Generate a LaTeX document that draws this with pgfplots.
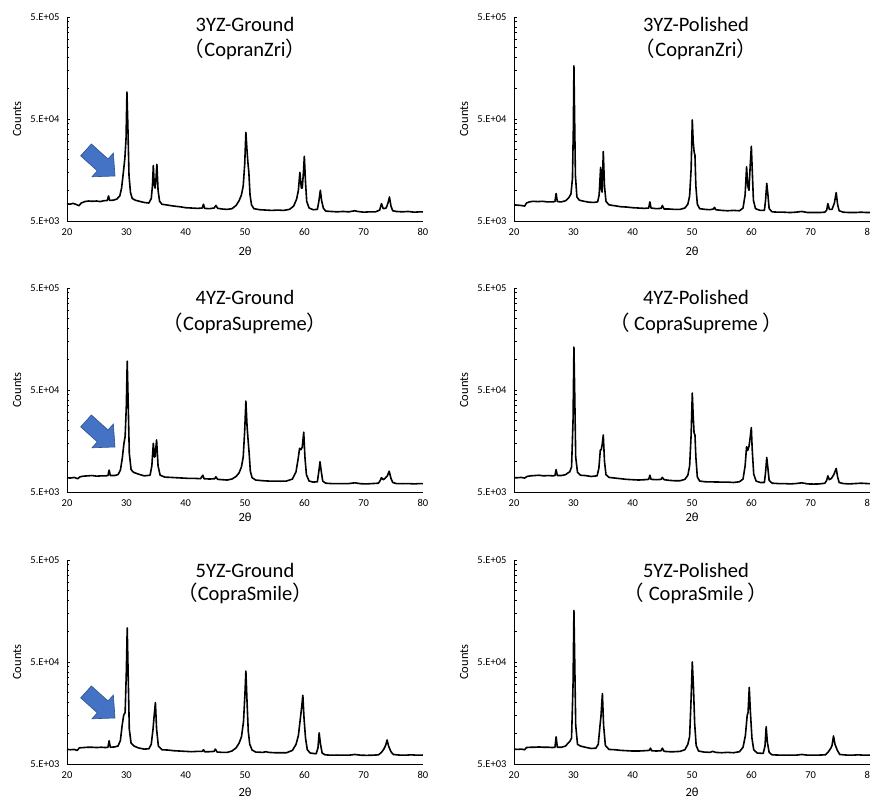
\documentclass[border=0pt]{standalone}
\usepackage{pgfplots}
\pgfplotsset{compat=1.18}
\usepackage{pgfplotstable}
\usepackage{fontspec}
\setmainfont{Carlito}
\newfontfamily\cjk{Noto Sans CJK JP}

\definecolor{arrowblue}{HTML}{4472C4}
\definecolor{arrowedge}{HTML}{2F528F}

% 3YZ-Ground (CopranZri)
\pgfplotstableread{
x y
20.0 7400
20.5 7300
21.0 7450
21.6 7250
22.0 7050
22.4 7500
23.0 7750
23.6 7850
24.2 7800
25.0 7850
25.6 7750
26.2 7900
26.8 7950
27.0 8800
27.2 7950
27.8 8000
28.4 8200
28.9 8800
29.2 10500
29.5 15000
29.75 20500
29.95 32000
30.1 92000
30.25 45000
30.45 14000
30.7 9500
31.0 8300
31.5 8000
32.2 7800
33.0 7600
33.8 7500
34.2 8300
34.4 11000
34.55 17500
34.7 11500
34.85 10500
35.0 13000
35.15 18000
35.35 10000
35.6 7800
36.0 7300
37.0 7150
38.0 7000
39.0 6900
40.0 6750
41.0 6700
42.0 6650
42.8 6700
43.0 7300
43.2 6650
44.0 6600
44.8 6700
45.1 7100
45.4 6650
46.2 6550
47.0 6500
47.8 6600
48.5 7100
49.0 7900
49.4 9000
49.7 11000
49.95 18000
50.15 37000
50.35 24000
50.5 18500
50.65 15000
50.85 9000
51.1 7200
51.5 6600
52.5 6450
53.5 6400
54.5 6350
55.5 6400
56.5 6350
57.5 6500
58.2 7000
58.7 8200
59.0 10000
59.25 15000
59.5 10500
59.65 10500
59.85 15000
60.0 21500
60.2 12000
60.4 7800
60.8 6700
61.5 6450
62.2 6500
62.45 7800
62.7 10000
62.9 8000
63.2 6700
63.6 6250
64.5 6200
65.5 6150
66.5 6200
67.5 6150
68.5 6300
69.0 6200
70.0 6100
71.0 6150
72.0 6150
72.7 6400
73.0 7400
73.3 6600
73.8 6700
74.1 7500
74.35 8600
74.6 7000
74.9 6300
75.5 6200
76.5 6150
77.5 6200
78.5 6100
79.5 6150
80.0 6150
}\tA

% 3YZ-Polished (CopranZri)
\pgfplotstableread{
x y
20.0 7200
20.6 7150
21.2 7100
21.8 7000
22.1 7500
22.6 7700
23.2 7800
24.0 7750
24.8 7800
25.6 7700
26.4 7700
26.9 7750
27.1 9300
27.3 7750
28.0 7700
28.7 7900
29.2 8400
29.6 9200
29.85 13000
30.0 40000
30.1 166000
30.2 60000
30.35 14000
30.6 8600
31.0 8000
31.8 7800
32.6 7650
33.4 7600
34.1 7700
34.35 9000
34.6 16800
34.75 10000
34.85 9600
35.05 24000
35.25 11000
35.5 7800
36.0 7200
37.0 7050
38.0 6900
39.0 6850
40.0 6750
41.0 6700
42.0 6650
42.7 6700
42.9 7700
43.1 6700
44.0 6600
44.8 6650
45.0 7100
45.3 6550
46.2 6550
47.0 6500
48.0 6500
48.8 6700
49.3 7300
49.6 8800
49.85 16000
50.05 49000
50.2 30000
50.35 24000
50.5 22000
50.65 11000
50.9 7300
51.3 6600
52.2 6500
53.0 6450
53.6 6550
53.8 6800
54.0 6450
55.0 6350
56.0 6300
57.0 6350
58.0 6300
58.6 6700
58.95 9000
59.2 17000
59.4 11000
59.6 10000
59.8 17000
60.0 27000
60.15 16000
60.35 8000
60.7 6600
61.5 6350
62.2 6350
62.4 8000
62.6 11700
62.8 9000
63.0 6600
63.5 6150
64.5 6100
65.5 6100
66.5 6050
67.5 6100
68.5 6200
69.5 6050
70.5 6050
71.5 6050
72.4 6100
72.7 6400
72.9 7400
73.15 6500
73.6 6500
74.0 7500
74.3 9500
74.55 7200
74.8 6300
75.5 6100
76.5 6050
77.5 6050
78.5 6100
79.5 6050
80.0 6050
}\tB

% 4YZ-Ground (CopraSupreme)
\pgfplotstableread{
x y
20.0 6900
20.6 6850
21.2 6950
21.8 6750
22.2 7050
22.8 7150
23.5 7200
24.2 7250
25.0 7150
25.8 7200
26.5 7200
26.9 7250
27.1 8200
27.3 7250
28.0 7250
28.6 7400
29.0 8200
29.3 10500
29.6 15000
29.8 17500
30.0 35000
30.15 96000
30.3 40000
30.5 12000
30.8 8300
31.2 7800
32.0 7500
33.0 7200
34.0 7300
34.3 9000
34.55 15000
34.75 11000
34.85 11200
35.1 16200
35.35 9000
35.7 7300
36.5 7000
37.5 6950
38.5 6900
39.5 6850
40.5 6800
41.5 6800
42.5 6750
42.9 7300
43.1 6750
44.0 6700
44.9 6750
45.1 7050
45.4 6650
46.2 6600
47.0 6550
47.8 6700
48.5 7100
49.0 7700
49.4 8800
49.7 11000
49.95 20000
50.15 39000
50.35 22000
50.5 16800
50.7 12000
50.9 8000
51.2 6900
51.8 6550
53.0 6450
54.0 6400
55.0 6400
56.0 6380
57.0 6400
58.0 6700
58.6 7900
58.95 10500
59.2 13400
59.45 13000
59.65 13800
59.9 19300
60.1 11000
60.35 7400
60.8 6400
61.5 6250
62.2 6300
62.45 8000
62.65 9900
62.85 8000
63.1 6400
63.6 6100
64.5 6050
65.5 6050
66.5 6030
67.5 6050
68.5 6150
69.5 6030
70.5 6000
71.5 6050
72.5 6100
72.8 6500
73.0 6900
73.3 6600
73.6 6800
74.0 7200
74.3 8000
74.6 6800
74.9 6200
75.5 6050
76.5 6030
77.5 6050
78.5 6000
79.5 6050
80.0 6050
}\tC

% 4YZ-Polished (CopraSupreme)
\pgfplotstableread{
x y
20.0 6900
20.6 6900
21.2 6950
21.8 6850
22.2 7100
22.8 7200
23.5 7250
24.2 7300
25.0 7200
25.8 7250
26.5 7200
26.9 7250
27.1 8300
27.3 7250
28.0 7250
28.7 7400
29.1 7700
29.4 7900
29.7 8800
29.95 25000
30.1 132000
30.25 40000
30.4 11000
30.7 7800
31.2 7300
32.0 7250
33.0 7100
34.0 7200
34.3 8500
34.55 12900
34.7 13000
34.85 14400
35.05 18100
35.25 10000
35.5 7400
36.0 6950
37.0 6850
38.0 6750
39.0 6650
40.0 6600
41.0 6550
42.0 6600
42.7 6650
42.9 7300
43.1 6650
44.0 6600
44.8 6650
45.0 6950
45.3 6600
46.2 6500
47.0 6450
48.0 6450
48.8 6650
49.3 7300
49.6 9000
49.85 18000
50.05 46700
50.2 28000
50.35 19000
50.5 18100
50.65 11000
50.9 7000
51.3 6400
52.2 6300
53.0 6280
54.0 6270
55.0 6250
56.0 6250
57.0 6200
58.0 6300
58.6 6700
58.95 9000
59.2 13900
59.4 12800
59.6 14000
59.75 16000
60.0 21400
60.15 13000
60.4 7500
60.8 6400
61.5 6200
62.2 6200
62.4 7800
62.6 10900
62.8 8500
63.0 6500
63.5 6100
64.5 6050
65.5 6050
66.5 6000
67.5 6050
68.5 6150
69.5 6000
70.5 5980
71.5 6000
72.4 6100
72.7 6500
72.9 7200
73.15 6600
73.5 6800
73.9 7400
74.3 8500
74.55 7000
74.8 6200
75.5 6050
76.5 6000
77.5 6050
78.5 6100
79.5 6050
80.0 6050
}\tD

% 5YZ-Ground (CopraSmile)
\pgfplotstableread{
x y
20.0 6950
20.6 6900
21.2 6950
21.7 6800
22.1 7200
22.8 7250
23.5 7300
24.2 7300
25.0 7250
25.8 7300
26.5 7250
26.9 7300
27.1 8450
27.3 7300
28.0 7350
28.6 7500
29.0 8500
29.3 12000
29.55 15000
29.8 16000
30.0 40000
30.15 108000
30.3 40000
30.5 11000
30.8 8000
31.3 7500
32.0 7200
33.0 7000
33.8 7050
34.2 7800
34.5 11000
34.65 14000
34.9 20000
35.1 11000
35.4 7500
36.0 6900
37.0 6850
38.0 6750
39.0 6700
40.0 6650
41.0 6600
42.0 6650
42.8 6650
43.0 6900
43.2 6600
44.0 6600
44.8 6650
45.0 7000
45.3 6550
46.2 6500
47.0 6500
47.8 6700
48.5 7200
49.0 8000
49.4 9200
49.75 13000
50.0 25000
50.15 40800
50.35 20000
50.55 10500
50.8 7800
51.2 6850
51.8 6550
53.0 6500
53.5 6600
54.0 6500
55.0 6450
56.0 6450
57.0 6450
58.0 6800
58.6 7800
59.0 9500
59.3 13500
59.55 18000
59.75 23600
59.95 14000
60.2 9000
60.5 6900
61.0 6400
62.0 6300
62.3 7200
62.5 10100
62.7 8000
63.0 6400
63.5 6150
64.5 6100
65.5 6120
66.5 6100
67.5 6100
68.5 6200
69.5 6100
70.5 6080
71.5 6100
72.5 6150
73.0 6500
73.4 7000
73.7 7600
73.95 8600
74.2 7500
74.6 6600
75.0 6200
76.0 6120
77.0 6100
78.0 6150
79.0 6100
80.0 6120
}\tE

% 5YZ-Polished (CopraSmile)
\pgfplotstableread{
x y
20.0 7000
20.6 6950
21.2 7000
21.8 6900
22.1 7250
22.8 7300
23.5 7300
24.2 7350
25.0 7300
25.8 7300
26.5 7250
26.9 7300
27.1 9250
27.3 7300
28.0 7300
28.7 7500
29.1 8000
29.4 8300
29.7 9000
29.95 30000
30.1 160000
30.25 45000
30.4 12000
30.7 7800
31.2 7500
32.0 7300
33.0 7100
33.8 7150
34.2 7800
34.5 12000
34.65 14500
34.9 24500
35.1 12000
35.4 7600
36.0 6950
37.0 6900
38.0 6800
39.0 6750
40.0 6700
41.0 6700
42.0 6750
42.8 6800
43.0 7150
43.2 6750
44.0 6700
44.8 6750
45.0 7150
45.3 6650
46.2 6600
47.0 6600
48.0 6650
48.8 6900
49.3 7800
49.6 9300
49.85 22000
50.05 50000
50.25 28000
50.45 12500
50.7 7600
51.1 6700
52.0 6550
53.0 6500
53.5 6650
54.0 6500
55.0 6450
56.0 6500
57.0 6450
58.0 6600
58.6 7300
59.0 9500
59.3 15000
59.45 16000
59.65 28100
59.85 16000
60.1 9000
60.4 6900
61.0 6400
62.0 6350
62.3 7500
62.5 11600
62.7 8200
63.0 6500
63.5 6150
64.5 6120
65.5 6100
66.5 6120
67.5 6100
68.5 6200
69.5 6100
70.5 6100
71.5 6120
72.5 6150
73.0 6600
73.4 7150
73.6 7600
73.85 9400
74.1 7800
74.5 6800
74.9 6200
76.0 6120
77.0 6100
78.0 6150
79.0 6100
80.0 6120
}\tF

% settings shared by all six panels
\pgfplotsset{
  every axis/.append style={
    scale only axis, width=356pt, height=204pt, anchor=south west,
    xmin=20, xmax=80, ymin=5000, ymax=500000,
    axis lines*=left, axis line style={line width=0.9pt},
    xtick={20,30,40,50,60,70,80},
    ytick={5000,50000,500000}, yticklabels={5.E+03,5.E+04,5.E+05},
    minor ytick={10000,15000,20000,25000,30000,35000,40000,45000,
      100000,150000,200000,250000,300000,350000,400000,450000},
    tick align=inside, major tick length=3pt, minor tick length=2.5pt,
    x tick style={draw=none}, y tick style={black, line width=0.7pt},
    xticklabel style={font=\fontsize{10.5}{12}\selectfont, yshift=-4pt},
    yticklabel style={font=\fontsize{10.5}{12}\selectfont, xshift=-4pt},
    xlabel={2θ}, ylabel={Counts},
    label style={font=\fontsize{12.5}{14}\selectfont},
    ylabel style={at={(axis description cs:-0.14,0.5)}, anchor=center},
  },
}
\pgfkeys{/pgf/number format/assume math mode=true}
\tikzset{
  ttl/.style={font=\fontsize{20.5}{24}\selectfont, anchor=base, inner sep=0pt},
  xrdline/.style={black, line width=1.6pt, line join=round},
}

\newcommand{\bluearrow}[2]{%
  \begin{scope}[shift={(#1pt,#2pt)}, rotate=-42]
    \filldraw[fill=arrowblue, draw=arrowedge, line width=0.6pt]
      (0pt,0pt) -- (-16.6pt,16pt) -- (-16.6pt,8pt) -- (-39pt,8pt)
      -- (-39pt,-8pt) -- (-16.6pt,-8pt) -- (-16.6pt,-16pt) -- cycle;
  \end{scope}}

\begin{document}
\begin{tikzpicture}
\path[use as bounding box] (0pt,0pt) rectangle (870pt,-799pt);

% row 1
\begin{semilogyaxis}[at={(67pt,-221pt)},
  xlabel style={at={(axis description cs:0.5,-0.150)}, anchor=center}]
  \addplot[xrdline, mark=none] table {\tA};
  \node[ttl] at (rel axis cs:0.5,1) [yshift=-14.7pt] {3YZ-Ground};
  \node[ttl] at (rel axis cs:0.5,1) [yshift=-39.7pt] {{\cjk （}CopranZri{\cjk ）}};
\end{semilogyaxis}
\begin{semilogyaxis}[at={(514pt,-221pt)},
  xlabel style={at={(axis description cs:0.5,-0.150)}, anchor=center}]
  \addplot[xrdline, mark=none] table {\tB};
  \node[ttl] at (rel axis cs:0.5,1) [xshift=4pt, yshift=-14.7pt] {3YZ-Polished};
  \node[ttl] at (rel axis cs:0.5,1) [xshift=4pt, yshift=-39.7pt] {{\cjk （}CopranZri{\cjk ）}};
\end{semilogyaxis}

% row 2
\begin{semilogyaxis}[at={(67pt,-492pt)},
  xlabel style={at={(axis description cs:0.5,-0.123)}, anchor=center}]
  \addplot[xrdline, mark=none] table {\tC};
  \node[ttl] at (rel axis cs:0.5,1) [yshift=-16.7pt] {4YZ-Ground};
  \node[ttl] at (rel axis cs:0.5,1) [yshift=-42.7pt] {{\cjk （}CopraSupreme{\cjk ）}};
\end{semilogyaxis}
\begin{semilogyaxis}[at={(514pt,-492pt)},
  xlabel style={at={(axis description cs:0.5,-0.123)}, anchor=center}]
  \addplot[xrdline, mark=none] table {\tD};
  \node[ttl] at (rel axis cs:0.5,1) [xshift=4pt, yshift=-16.7pt] {4YZ-Polished};
  \node[ttl] at (rel axis cs:0.5,1) [xshift=4pt, yshift=-42.7pt] {{\cjk （} CopraSupreme {\cjk ）}};
\end{semilogyaxis}

% row 3
\begin{semilogyaxis}[at={(67pt,-764pt)},
  xlabel style={at={(axis description cs:0.5,-0.140)}, anchor=center}]
  \addplot[xrdline, mark=none] table {\tE};
  \node[ttl] at (rel axis cs:0.5,1) [yshift=-17.4pt] {5YZ-Ground};
  \node[ttl] at (rel axis cs:0.5,1) [yshift=-40.7pt] {{\cjk （}CopraSmile{\cjk ）}};
\end{semilogyaxis}
\begin{semilogyaxis}[at={(514pt,-764pt)},
  xlabel style={at={(axis description cs:0.5,-0.140)}, anchor=center}]
  \addplot[xrdline, mark=none] table {\tF};
  \node[ttl] at (rel axis cs:0.5,1) [xshift=4pt, yshift=-17.4pt] {5YZ-Polished};
  \node[ttl] at (rel axis cs:0.5,1) [xshift=4pt, yshift=-40.7pt] {{\cjk （} CopraSmile {\cjk ）}};
\end{semilogyaxis}

% arrows pointing at the shoulder left of the 30 degree peak
\bluearrow{115}{-176}
\bluearrow{115}{-447}
\bluearrow{115}{-718}
\end{tikzpicture}
\end{document}
